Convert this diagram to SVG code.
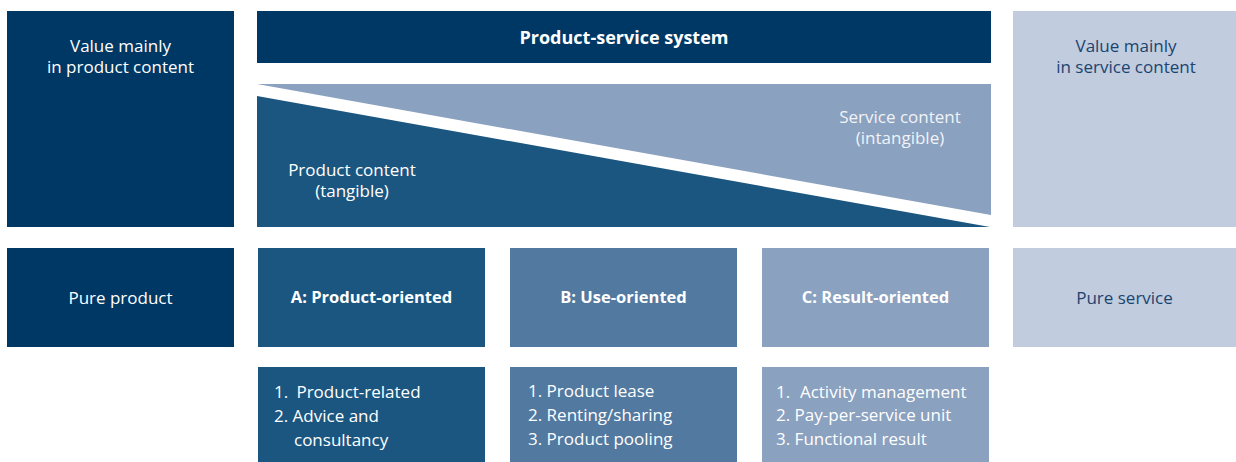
<svg xmlns="http://www.w3.org/2000/svg" width="1236" height="462" viewBox="0 0 1236 462">
<style>
.navy{fill:#003865}
.c1{fill:#1b5680}
.c2{fill:#52799f}
.c3{fill:#8aa1bf}
.c4{fill:#c1ccdf}
text{font-family:"Open Sans","Noto Sans","Liberation Sans",sans-serif;font-size:17px;fill:#ffffff}
.b{font-weight:bold;font-size:16.5px}
.t{font-weight:bold;font-size:18px}
.m{text-anchor:middle}
.dk{fill:#1a4470}
.lt{fill:#f0f3f8}
</style>
<rect width="1236" height="462" fill="#ffffff"/>
<g id="value-product">
<rect class="navy" x="7" y="11" width="227" height="216"/>
<text class="m" x="120.5" y="52">Value mainly</text>
<text class="m" x="120.5" y="73">in product content</text>
</g>
<g id="pss">
<rect class="navy" x="257" y="11" width="734" height="52"/>
<text class="t m" x="624" y="44">Product-service system</text>
</g>
<g id="service-content">
<polygon class="c3" points="257,84 991,84 991,215"/>
<text class="m lt" x="900" y="123">Service content</text>
<text class="m lt" x="900" y="144">(intangible)</text>
</g>
<g id="product-content">
<polygon class="c1" points="257,96 990,227 257,227"/>
<text class="m" x="352" y="176">Product content</text>
<text class="m" x="352" y="197">(tangible)</text>
</g>
<g id="value-service">
<rect class="c4" x="1013" y="11" width="223" height="216"/>
<text class="m dk" x="1126" y="52">Value mainly</text>
<text class="m dk" x="1126" y="73">in service content</text>
</g>
<g id="pure-product">
<rect class="navy" x="7" y="248" width="227" height="99"/>
<text class="m" x="120.5" y="304">Pure product</text>
</g>
<g id="a-product-oriented">
<rect class="c1" x="258" y="248" width="227" height="99"/>
<text class="b m" x="371.5" y="303">A: Product-oriented</text>
</g>
<g id="b-use-oriented">
<rect class="c2" x="510" y="248" width="227" height="99"/>
<text class="b m" x="623.5" y="303">B: Use-oriented</text>
</g>
<g id="c-result-oriented">
<rect class="c3" x="762" y="248" width="227" height="99"/>
<text class="b m" x="875.5" y="303">C: Result-oriented</text>
</g>
<g id="pure-service">
<rect class="c4" x="1013" y="248" width="223" height="99"/>
<text class="m dk" x="1124.5" y="304">Pure service</text>
</g>
<g id="a-list">
<rect class="c1" x="258" y="367" width="227" height="95"/>
<text x="274" y="398">1.<tspan x="292"> Product-related</tspan></text>
<text x="274" y="422">2. Advice and</text>
<text x="294" y="446">consultancy</text>
</g>
<g id="b-list">
<rect class="c2" x="510" y="367" width="227" height="95"/>
<text x="528" y="397">1. Product lease</text>
<text x="528" y="421">2. Renting/sharing</text>
<text x="528" y="445">3. Product pooling</text>
</g>
<g id="c-list">
<rect class="c3" x="762" y="367" width="227" height="95"/>
<text x="776" y="398">1.<tspan x="795.5"> Activity management</tspan></text>
<text x="776" y="421">2. Pay-per-service unit</text>
<text x="776" y="445">3. Functional result</text>
</g>
<g id="connectors"/>
</svg>
